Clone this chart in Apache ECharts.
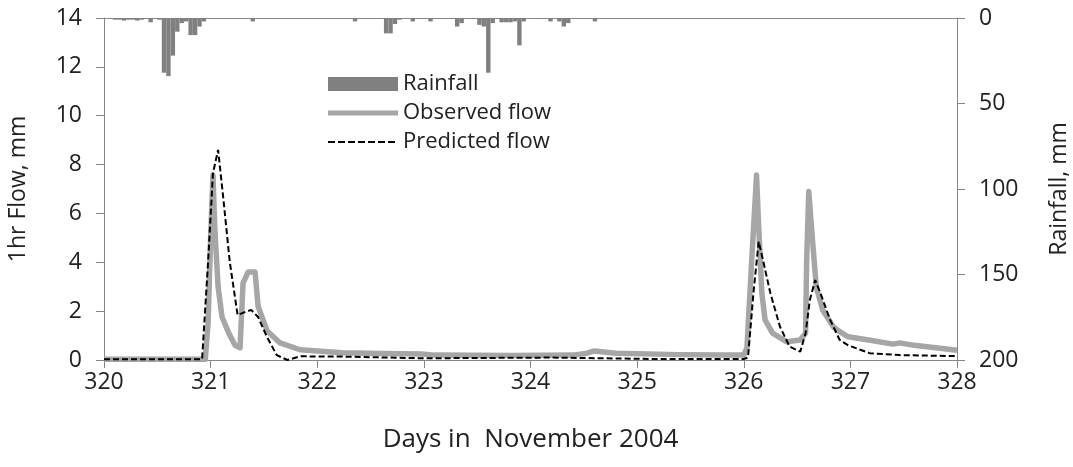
<!DOCTYPE html>
<html>
<head>
<meta charset="utf-8">
<script src="https://cdn.jsdelivr.net/npm/echarts@6/dist/echarts.min.js"></script>
<style>
  html, body { margin: 0; padding: 0; background: #fff; }
  #chart { width: 1073px; height: 467px; }
</style>
</head>
<body>
<div id="chart"></div>
<script>
// hourly rainfall, hour index counted from day 320 (0h)
var rainHours = [2,3,4,5,6,7,8,10,12,13,14,15,16,17,18,19,20,21,22,33,56,63,64,65,66,69,73,79,80,84,85,86,87,89,90,91,92,93,94,100,102,103,104,110];
var rainMm    = [1,1,1.5,1,1,1.5,1,2.5,1,32,34,22,8,3,2,10,10,5,2,2,2,9,9,3.5,1,2,2,5,3,4,5,32,3,2.5,2.5,2.5,2,16,2,2,2,5,3,2];

// observed flow (day, mm)
var obsDays = [320,320.95,320.976,321.0,321.022,321.04,321.07,321.107,321.17,321.229,321.276,321.304,321.351,321.417,321.445,321.529,321.651,321.839,322.23,322.6,322.98,323.1,323.82,324.4,324.53,324.6,324.8,325.4,325.8,326.0,326.03,326.08,326.12,326.14,326.17,326.2,326.27,326.4,326.53,326.58,326.59,326.61,326.635,326.68,326.74,326.84,326.9,326.98,327.2,327.4,327.46,327.6,328];
var obsFlow = [0.03,0.03,1.5,5.0,7.57,5.3,3.0,1.76,1.1,0.6,0.5,3.15,3.6,3.6,2.2,1.2,0.7,0.42,0.3,0.27,0.25,0.2,0.18,0.2,0.28,0.37,0.28,0.22,0.2,0.2,0.5,4.5,7.57,5.45,2.73,1.64,1.1,0.75,0.82,1.1,4.1,6.9,5.45,3.0,2.05,1.36,1.16,0.95,0.8,0.65,0.7,0.6,0.4];

// predicted flow (day, mm)
var predDays = [320,320.92,320.976,321.022,321.07,321.117,321.18,321.253,321.32,321.38,321.445,321.529,321.62,321.72,321.84,322.23,322.99,324.21,325.16,326.0,326.04,326.09,326.14,326.18,326.25,326.34,326.43,326.53,326.58,326.62,326.67,326.72,326.81,326.9,326.98,327.18,327.46,328];
var predFlow = [0.03,0.03,4.0,7.65,8.6,6.7,4.0,1.84,1.96,2.05,1.76,0.94,0.2,0.0,0.15,0.14,0.07,0.1,0.04,0.04,0.1,2.7,4.85,4.1,2.73,1.36,0.55,0.34,1.1,2.46,3.27,2.73,1.64,0.82,0.6,0.28,0.2,0.16];

var rainData = rainHours.map(function (h, i) { return [320 + (h + 0.5) / 24, rainMm[i]]; });
var obsData = obsDays.map(function (d, i) { return [d, obsFlow[i]]; });
var predData = predDays.map(function (d, i) { return [d, predFlow[i]]; });

var FONT = 'Open Sans';
var TXT = '#222';
var AX = '#868686';

// legend swatches: 70x14 boxes, tiny corner dots keep the box size
var corners = 'M0,0h0.01v0.01z M70,14h-0.01v-0.01z ';
var solidIcon = 'path://' + corners + 'M0,4.5h70v5h-70z';
var dashIcon = 'path://' + corners;
for (var k = 0; k < 7; k++) {
    dashIcon += 'M' + (k * 10) + ',6h7v2h-7z ';
}

var myChart = echarts.init(document.getElementById('chart'));
var option = {
    animation: false,
    textStyle: { fontFamily: FONT },
    grid: { left: 104, right: 116, top: 18, bottom: 107, containLabel: false, outerBoundsMode: 'none' },
    legend: {
        orient: 'vertical',
        left: 328,
        top: 73,
        padding: 0,
        itemWidth: 70,
        itemHeight: 14,
        itemGap: 7,
        textStyle: { fontFamily: FONT, fontSize: 22, color: TXT },
        data: [
            { name: 'Rainfall', icon: 'rect' },
            { name: 'Observed flow', icon: solidIcon },
            { name: 'Predicted flow', icon: dashIcon }
        ]
    },
    xAxis: [{
        type: 'value',
        min: 320, max: 328, interval: 1,
        name: 'Days in  November 2004',
        nameLocation: 'middle',
        nameGap: 67,
        nameTextStyle: { fontFamily: FONT, fontSize: 26, color: TXT },
        axisLine: { lineStyle: { color: AX, width: 1 } },
        axisTick: { show: true, length: 8, lineStyle: { color: AX } },
        axisLabel: { fontFamily: FONT, fontSize: 23, color: TXT, margin: 11 },
        splitLine: { show: false }
    }, {
        type: 'value',
        position: 'top',
        min: 320, max: 328,
        axisLine: { show: true, onZero: false, lineStyle: { color: AX, width: 1 } },
        axisTick: { show: false },
        axisLabel: { show: false },
        splitLine: { show: false }
    }],
    yAxis: [{
        type: 'value',
        min: 0, max: 14, interval: 2,
        name: '1hr Flow, mm',
        nameLocation: 'middle',
        nameGap: 74,
        nameTextStyle: { fontFamily: FONT, fontSize: 23, color: TXT },
        axisLine: { show: true, lineStyle: { color: AX, width: 1 } },
        axisTick: { show: true, length: 8, lineStyle: { color: AX } },
        axisLabel: { fontFamily: FONT, fontSize: 23, color: TXT, margin: 22 },
        splitLine: { show: false }
    }, {
        type: 'value',
        min: 0, max: 200, interval: 50,
        inverse: true,
        position: 'right',
        name: 'Rainfall, mm',
        nameLocation: 'middle',
        nameGap: 91,
        nameRotate: 90,
        nameTextStyle: { fontFamily: FONT, fontSize: 23, color: TXT },
        axisLine: { show: true, lineStyle: { color: AX, width: 1 } },
        axisTick: { show: true, length: 8, lineStyle: { color: AX } },
        axisLabel: { fontFamily: FONT, fontSize: 23, color: TXT, margin: 22 },
        splitLine: { show: false }
    }],
    series: [{
        name: 'Rainfall',
        type: 'bar',
        xAxisIndex: 0,
        yAxisIndex: 1,
        data: rainData,
        barWidth: 4.4,
        itemStyle: { color: '#808080' }
    }, {
        name: 'Observed flow',
        type: 'line',
        data: obsData,
        showSymbol: false,
        symbol: 'none',
        lineStyle: { color: '#a6a6a6', width: 5.5, join: 'round' },
        itemStyle: { color: '#a6a6a6' },
        z: 3
    }, {
        name: 'Predicted flow',
        type: 'line',
        data: predData,
        showSymbol: false,
        symbol: 'none',
        lineStyle: { color: '#000', width: 2, type: [6, 3] },
        itemStyle: { color: '#000' },
        z: 4
    }]
};
myChart.setOption(option);
window.onresize = function () { myChart.resize(); };
</script>
</body>
</html>
